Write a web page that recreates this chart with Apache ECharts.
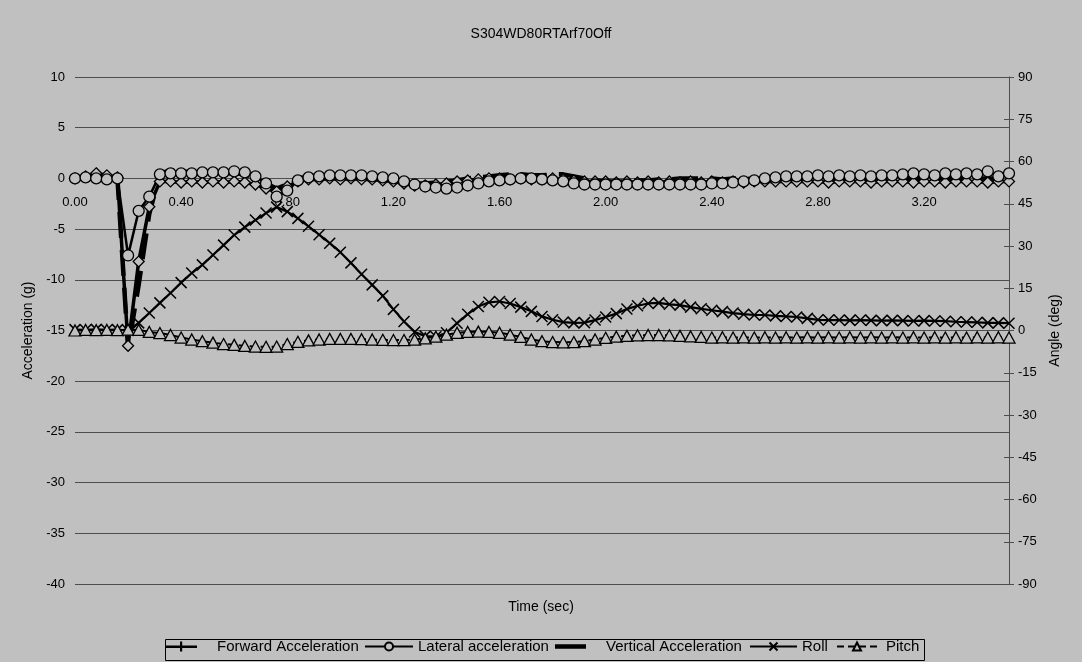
<!DOCTYPE html>
<html>
<head>
<meta charset="utf-8">
<script src="https://cdn.jsdelivr.net/npm/echarts@6/dist/echarts.min.js"></script>
<style>
html,body{margin:0;padding:0;background:#c0c0c0;}
#chart{width:1082px;height:662px;}
</style>
</head>
<body>
<div id="chart"></div>
<script>
const chartTitle = 'S304WD80RTArf70Off';
const times = [
 0.00,0.04,0.08,0.12,0.16,0.20,0.24,0.28,0.32,0.36,
 0.40,0.44,0.48,0.52,0.56,0.60,0.64,0.68,0.72,0.76,
 0.80,0.84,0.88,0.92,0.96,1.00,1.04,1.08,1.12,1.16,
 1.20,1.24,1.28,1.32,1.36,1.40,1.44,1.48,1.52,1.56,
 1.60,1.64,1.68,1.72,1.76,1.80,1.84,1.88,1.92,1.96,
 2.00,2.04,2.08,2.12,2.16,2.20,2.24,2.28,2.32,2.36,
 2.40,2.44,2.48,2.52,2.56,2.60,2.64,2.68,2.72,2.76,
 2.80,2.84,2.88,2.92,2.96,3.00,3.04,3.08,3.12,3.16,
 3.20,3.24,3.28,3.32,3.36,3.40,3.44,3.48,3.52
];
const forwardAcc = [
 0,0.2,0.5,0.3,0.1,-16.5,-8.2,-2.8,-0.3,-0.3,
 -0.4,-0.3,-0.4,-0.3,-0.4,-0.3,-0.4,-0.6,-1.0,-1.3,
 -0.8,-0.3,-0.1,-0.1,0,-0.1,0,-0.1,-0.1,-0.2,
 -0.3,-0.5,-0.7,-0.7,-0.6,-0.5,-0.3,-0.2,-0.1,0,
 0,-0.1,0,-0.1,-0.1,0,-0.1,-0.2,-0.3,-0.3,
 -0.3,-0.4,-0.3,-0.4,-0.3,-0.4,-0.3,-0.4,-0.3,-0.4,
 -0.3,-0.4,-0.3,-0.4,-0.3,-0.3,-0.3,-0.3,-0.3,-0.3,
 -0.3,-0.4,-0.3,-0.3,-0.3,-0.4,-0.3,-0.3,-0.3,-0.4,
 -0.3,-0.3,-0.4,-0.3,-0.3,-0.3,-0.4,-0.3,-0.3
];
const lateralAcc = [
 0,0.1,0,-0.1,0,-7.6,-3.2,-1.8,0.4,0.5,
 0.5,0.5,0.6,0.6,0.6,0.7,0.6,0.2,-0.5,-1.8,
 -1.2,-0.2,0.1,0.2,0.3,0.3,0.3,0.3,0.2,0.1,
 0,-0.3,-0.6,-0.8,-0.9,-1.0,-0.9,-0.7,-0.5,-0.3,
 -0.2,-0.1,0,0,-0.1,-0.2,-0.3,-0.5,-0.6,-0.6,
 -0.6,-0.6,-0.6,-0.6,-0.6,-0.6,-0.6,-0.6,-0.6,-0.6,
 -0.5,-0.5,-0.4,-0.3,-0.2,0,0.1,0.2,0.2,0.2,
 0.3,0.2,0.3,0.2,0.3,0.2,0.3,0.3,0.4,0.5,
 0.4,0.3,0.5,0.4,0.5,0.4,0.7,0.2,0.5
];
const verticalAcc = [
 0,0,0,0,0,-16.8,-10.5,-3.5,0.5,0.8,
 0.7,0.6,0.6,0.6,0.5,0.5,0.4,0,-0.5,-1.0,
 -0.6,0,0.2,0.3,0.3,0.3,0.2,0.2,0.1,0,
 -0.2,-0.4,-0.5,-0.5,-0.4,-0.3,-0.2,0,0.1,0.2,
 0.3,0.4,0.4,0.3,0.3,0.4,0.4,0.2,0,-0.2,
 -0.3,-0.3,-0.3,-0.2,-0.2,-0.1,-0.1,0,0,0,
 0,-0.1,0,0,-0.1,0,0,0.1,0,0,
 0,0,0,0.1,0,0,0,0,0,0,
 0,0,0.1,0,0,0,0,0,0
];
const roll = [
 0.3,0.2,0.4,0.2,0.3,0,2.7,6.2,9.8,13.3,
 17,20.4,23.3,26.8,30.3,33.9,36.7,39.2,41.7,43.8,
 42.2,39.8,37,34,31,27.8,24,20,16.2,12.3,
 7.5,3.2,-0.5,-2,-2.2,-0.8,2.6,5.8,8.5,10,
 10.3,9.6,8.3,6.8,5,3.8,3,2.7,2.8,3.7,
 4.8,6,7.6,8.8,9.6,9.8,9.3,9,8.3,7.7,
 7.2,6.7,6.2,5.8,5.5,5.5,5.2,5,4.8,4.3,
 3.8,3.7,3.7,3.6,3.7,3.6,3.5,3.6,3.5,3.4,
 3.5,3.4,3.3,3.1,3,2.9,2.7,2.7,2.6
];
const pitch = [
 0,0.2,0.1,0.2,0.1,0.3,0.2,-0.5,-0.9,-1.6,
 -2.5,-3.2,-3.8,-4.3,-4.8,-5.1,-5.5,-5.7,-5.8,-5.7,
 -4.8,-4,-3.5,-3.2,-3,-3,-3,-3.1,-3.2,-3.3,
 -3.4,-3.4,-3.2,-2.8,-2.2,-1.5,-0.8,-0.5,-0.4,-0.5,
 -0.8,-1.5,-2.3,-3.2,-3.8,-4.1,-4.2,-4.1,-3.8,-3.2,
 -2.6,-2.2,-1.9,-1.7,-1.6,-1.6,-1.7,-1.9,-2.1,-2.3,
 -2.5,-2.4,-2.5,-2.4,-2.5,-2.4,-2.5,-2.4,-2.5,-2.4,
 -2.5,-2.4,-2.5,-2.4,-2.5,-2.4,-2.5,-2.4,-2.5,-2.4,
 -2.5,-2.4,-2.5,-2.4,-2.5,-2.4,-2.5,-2.4,-2.5
];
const seriesNames = ['Forward Acceleration','Lateral acceleration','Vertical Acceleration','Roll','Pitch'];
const accMin = -40, accMax = 10;

const FONT = '"Liberation Sans", Arial, sans-serif';
const NARROW = '"Liberation Sans Narrow", "Arial Narrow", "Liberation Sans", sans-serif';
const BG = '#c0c0c0';
const GRID = '#4d4d4d';
const xPath = 'path://M0,0L10,10M10,0L0,10';
const plusIcon = 'path://M0,4H32V6.5H0Z M15,0H17.2V10H15Z';
const barIcon = 'path://M0,3H31V7.5H0Z';

const W = 1082, H = 662, gTop = 77, gBottom = 78;
const plotH = H - gTop - gBottom;
const zeroOffset = -plotH * (0 - accMin) / (accMax - accMin);

const chart = echarts.init(document.getElementById('chart'), null, {renderer:'canvas'});
const hollow = {color: BG, borderColor:'#000', borderWidth:1.3};

const legTop = 639;
const legText = {fontFamily: FONT, fontSize: 15, color: '#000'};
function leg(name, left, itemWidth, extra) {
  return Object.assign({
    data: [name], left: left, top: legTop, padding: 0,
    itemWidth: itemWidth, itemHeight: 10, selectedMode: false,
    textStyle: Object.assign({}, legText)
  }, extra || {});
}

chart.setOption({
  backgroundColor: BG,
  animation: false,
  title: {
    text: chartTitle, left: 'center', top: 22,
    textStyle: {fontFamily: NARROW, fontSize: 14, fontWeight: 'normal', color: '#000'}
  },
  graphic: [
    {
      type: 'text', left: 'center', top: 600,
      style: {text: 'Time (sec)', font: '14px ' + FONT, fill: '#000'}
    },
    {
      type: 'rect', left: 163, top: 637, z: -1,
      shape: {width: 759, height: 21},
      style: {fill: 'none', stroke: '#000', lineWidth: 1}
    }
  ],
  grid: {left: 75, right: 73, top: gTop, bottom: gBottom, containLabel: false},
  legend: [
    leg(seriesNames[0], 165, 32, {data: [{name: seriesNames[0], icon: plusIcon, itemStyle: {color:'#000', borderWidth:0}}], textStyle: Object.assign({}, legText, {padding: [0,0,0,15]})}),
    leg(seriesNames[1], 364, 48),
    leg(seriesNames[2], 555, 31, {data: [{name: seriesNames[2], icon: barIcon, itemStyle: {color:'#000', borderWidth:0}}], textStyle: Object.assign({}, legText, {padding: [0,0,0,15]})}),
    leg(seriesNames[3], 749, 47),
    leg(seriesNames[4], 836, 40, {textStyle: Object.assign({}, legText, {padding: [0,0,0,4]})})
  ],
  xAxis: {
    type: 'category', data: times.map(t => t.toFixed(2)), boundaryGap: false,
    position: 'bottom', offset: zeroOffset,
    axisLine: {show: true, onZero: false, lineStyle: {color: GRID, width: 1}},
    axisTick: {show: false},
    axisLabel: {interval: 9, color: '#000', fontFamily: FONT, fontSize: 13, margin: 18},
    splitLine: {show: false}
  },
  yAxis: [
    {
      type: 'value', min: accMin, max: accMax, interval: 5, position: 'left',
      name: 'Acceleration (g)', nameLocation: 'middle', nameGap: 40, nameRotate: 90,
      nameTextStyle: {fontFamily: FONT, fontSize: 14, color: '#000'},
      axisLine: {show: false}, axisTick: {show: false},
      axisLabel: {color: '#000', fontFamily: FONT, fontSize: 13, margin: 10},
      splitLine: {show: true, lineStyle: {color: GRID, width: 1}}
    },
    {
      type: 'value', min: -90, max: 90, interval: 15, position: 'right',
      name: 'Angle (deg)', nameLocation: 'middle', nameGap: 33, nameRotate: 90,
      nameTextStyle: {fontFamily: FONT, fontSize: 14, color: '#000'},
      axisLine: {show: true, lineStyle: {color: GRID, width: 1}},
      axisTick: {show: true, length: 5, lineStyle: {color: GRID}},
      axisLabel: {color: '#000', fontFamily: FONT, fontSize: 13, margin: 9},
      splitLine: {show: false}
    },
    {
      type: 'value', min: -90, max: 90, interval: 15, position: 'right',
      axisLine: {show: false},
      axisTick: {show: true, inside: true, length: 5, lineStyle: {color: GRID}},
      axisLabel: {show: false}, splitLine: {show: false}
    }
  ],
  series: [
    {
      name: seriesNames[0], type: 'line', yAxisIndex: 0, data: forwardAcc,
      symbol: 'diamond', symbolSize: 11, showAllSymbol: true,
      lineStyle: {color: '#000', width: 3.5}, itemStyle: hollow
    },
    {
      name: seriesNames[1], type: 'line', yAxisIndex: 0, data: lateralAcc,
      symbol: 'circle', symbolSize: 11, showAllSymbol: true,
      lineStyle: {color: '#000', width: 2.5}, itemStyle: hollow
    },
    {
      name: seriesNames[2], type: 'line', yAxisIndex: 0, data: verticalAcc,
      symbol: 'none',
      lineStyle: {color: '#000', width: 4.5, type: [26, 12]}, itemStyle: {color: '#000'}
    },
    {
      name: seriesNames[3], type: 'line', yAxisIndex: 1, data: roll,
      symbol: xPath, symbolSize: 11, showAllSymbol: true,
      lineStyle: {color: '#000', width: 2.2}, itemStyle: {color: '#000', borderColor: '#000', borderWidth: 1.5}
    },
    {
      name: seriesNames[4], type: 'line', yAxisIndex: 1, data: pitch,
      symbol: 'triangle', symbolSize: [12, 11], showAllSymbol: true,
      lineStyle: {color: '#000', width: 2, type: [7, 4]}, itemStyle: hollow
    }
  ]
});
</script>
</body>
</html>
